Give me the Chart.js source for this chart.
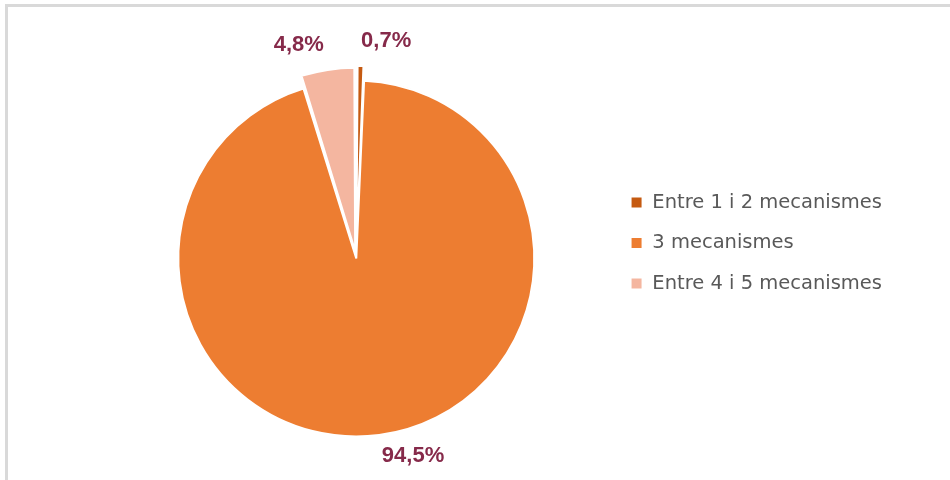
<!DOCTYPE html>
<html>
<head>
<meta charset="utf-8">
<script src="https://cdn.jsdelivr.net/npm/chart.js@4/dist/chart.umd.min.js"></script>
<style>
  html, body { margin: 0; padding: 0; background: #fff; overflow: hidden; }
  .frame {
    position: absolute; left: 5px; top: 4px; width: 942px; height: 473px;
    border-left: 3px solid #d9d9d9; border-top: 3px solid #d9d9d9;
  }
  .wrap { position: absolute; left: 0; top: 0; width: 950px; height: 480px; }
</style>
</head>
<body>
<div class="frame"></div>
<div class="wrap"><canvas id="mecanismes"></canvas></div>
<script>
const categories = ["Entre 1 i 2 mecanismes", "3 mecanismes", "Entre 4 i 5 mecanismes"];
const percentatges = [0.7, 94.5, 4.8];
const colors = ["#c55a11", "#ed7d31", "#f4b6a0"];
const offsets = [30, 0, 30];

// percentage labels outside each slice
const etiquetes = {
  id: "etiquetes",
  afterDatasetsDraw(chart) {
    const ctx = chart.ctx;
    const meta = chart.getDatasetMeta(0);
    ctx.save();
    ctx.font = "bold 22px 'Liberation Sans', Arial, sans-serif";
    ctx.fillStyle = "#862a4a";
    ctx.textBaseline = "middle";
    meta.data.forEach((arc, i) => {
      const p = arc.getProps(["x", "y", "startAngle", "endAngle", "outerRadius", "circumference"], true);
      const mid = (p.startAngle + p.endAngle) / 2;
      const off = (arc.options.offset || 0) / 4;
      const grow = off * (1 - Math.sin(Math.min(Math.PI, p.circumference)));
      const dist = off + p.outerRadius + grow + (off ? 25 : 21);
      const x = p.x + Math.cos(mid) * dist;
      const y = p.y + Math.sin(mid) * dist;
      ctx.textAlign = Math.cos(mid) >= 0 ? "left" : "right";
      const txt = percentatges[i].toFixed(1).replace(".", ",") + "%";
      ctx.fillText(txt, x, y);
    });
    ctx.restore();
  }
};

const ctx = document.getElementById("mecanismes").getContext("2d");
new Chart(ctx, {
  type: "pie",
  data: {
    labels: categories,
    datasets: [{
      data: percentatges,
      backgroundColor: colors,
      borderColor: "#ffffff",
      borderWidth: 2,
      offset: offsets,
      hoverOffset: 0
    }]
  },
  options: {
    responsive: true,
    maintainAspectRatio: false,
    animation: false,
    layout: {
      padding: { top: 33.5, bottom: 27.5, left: 103, right: 58 }
    },
    plugins: {
      title: {
        display: true,
        text: "",
        fullSize: false,
        padding: 0,
        font: { size: 31, lineHeight: 1 }
      },
      legend: {
        position: "right",
        labels: {
          boxWidth: 12,
          boxHeight: 12,
          padding: 21,
          color: "#595959",
          font: { family: "'DejaVu Sans', sans-serif", size: 19.5 }
        }
      },
      tooltip: { enabled: false }
    }
  },
  plugins: [etiquetes]
});
</script>
</body>
</html>
